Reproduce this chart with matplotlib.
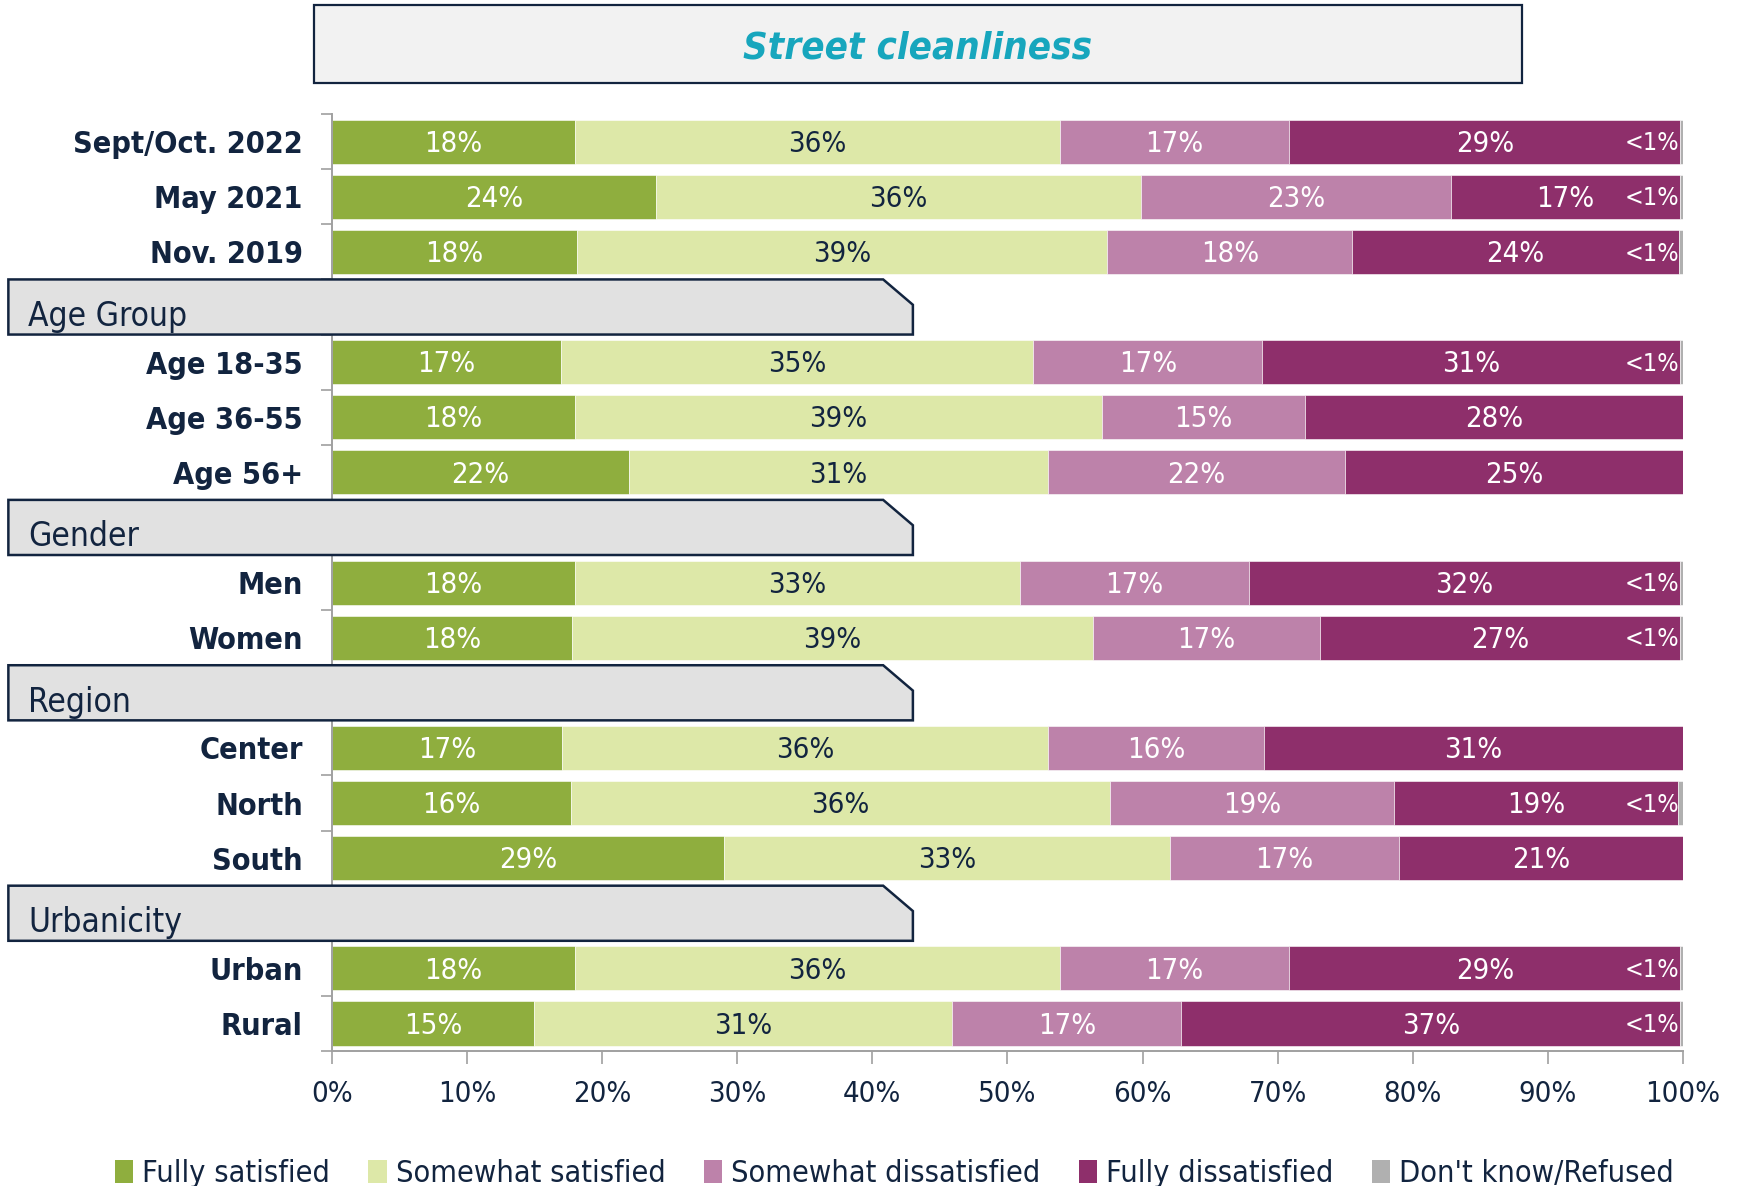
import matplotlib
matplotlib.use("Agg")
import matplotlib.pyplot as plt
from matplotlib.patches import Polygon, Rectangle, Patch
import numpy as np

plt.rcParams['font.family'] = ['DejaVu Sans']
plt.rcParams['font.stretch'] = 'condensed'

# Survey results (percent), one entry per row
categories = ["Sept/Oct. 2022", "May 2021", "Nov. 2019",
              "Age 18-35", "Age 36-55", "Age 56+",
              "Men", "Women",
              "Center", "North", "South",
              "Urban", "Rural"]
fully_sat = [18, 24, 18, 17, 18, 22, 18, 18, 17, 16, 29, 18, 15]
somewhat_sat = [36, 36, 39, 35, 39, 31, 33, 39, 36, 36, 33, 36, 31]
somewhat_dis = [17, 23, 18, 17, 15, 22, 17, 17, 16, 19, 17, 17, 17]
fully_dis = [29, 17, 24, 31, 28, 25, 32, 27, 31, 19, 21, 29, 37]
dont_know = [0.2, 0.2, 0.3, 0.2, 0, 0, 0.2, 0.2, 0, 0.3, 0, 0.2, 0.2]

# group headings and how many rows follow each one
groups = [("", 3), ("Age Group", 3), ("Gender", 2), ("Region", 3), ("Urbanicity", 2)]

series_names = ["Fully satisfied", "Somewhat satisfied", "Somewhat dissatisfied",
                "Fully dissatisfied", "Don't know/Refused"]
colors = ["#8fae3e", "#dde8a8", "#bd82aa", "#8e2f6b", "#b0b0b0"]
text_colors = ["white", "#12243f", "white", "white", "white"]
navy = "#12243f"

# slot layout: headings take a slot of their own
row_pos = []
head_pos = []
slot = 0
for name, n in groups:
    if name:
        head_pos.append((name, slot))
        slot += 1
    for _ in range(n):
        row_pos.append(slot)
        slot += 1
n_slots = slot

data = np.array([fully_sat, somewhat_sat, somewhat_dis, fully_dis, dont_know], dtype=float)
shares = data / data.sum(axis=0) * 100  # 100% stacked

fig = plt.figure(figsize=(17.37, 11.86), dpi=100)
ax = fig.add_axes([0.1911, 0.1138, 0.7778, 0.790])

left = np.zeros(len(categories))
for i in range(5):
    ax.barh(row_pos, shares[i], left=left, height=0.8, color=colors[i],
            edgecolor="white", linewidth=0.4, zorder=2)
    for j, y in enumerate(row_pos):
        v = data[i, j]
        if v <= 0:
            continue
        if i == 4:
            ax.text(99.7, y + 0.03, "<1%", ha="right", va="center", color="white",
                    fontsize=18, zorder=4)
        else:
            ax.text(left[j] + shares[i, j] / 2, y + 0.04, f"{int(v)}%", ha="center",
                    va="center", color=text_colors[i], fontsize=21, zorder=4)
    left += shares[i]

ax.set_xlim(0, 100)
ax.set_ylim(n_slots - 0.5, -0.5)
ax.set_xticks(np.arange(0, 101, 10))
ax.set_xticklabels([f"{t}%" for t in range(0, 101, 10)], fontsize=21, color=navy)
ax.tick_params(axis="x", length=9, color="#a0a0a0", width=1.2, pad=12)

ax.set_yticks(row_pos)
ax.set_yticklabels(categories, fontsize=22, fontweight="bold", color=navy)
ax.tick_params(axis="y", which="major", length=0, pad=21)
ax.set_yticks(np.arange(-0.5, n_slots, 1.0), minor=True)
ax.tick_params(axis="y", which="minor", length=8, color="#a0a0a0", width=1.2)

for s in ["top", "right"]:
    ax.spines[s].set_visible(False)
for s in ["left", "bottom"]:
    ax.spines[s].set_color("#a0a0a0")
    ax.spines[s].set_linewidth(1.4)

# heading tabs with a clipped top-right corner
for name, y in head_pos:
    x0, x1, xc = -23.95, 43.0, 40.8
    top, bot = y - 0.5, y + 0.5
    poly = Polygon([(x0, top), (xc, top), (x1, y - 0.04), (x1, bot), (x0, bot)],
                   closed=True, facecolor="#e1e1e1", edgecolor=navy, linewidth=1.8,
                   clip_on=False, zorder=5)
    ax.add_patch(poly)
    ax.text(-22.5, y + 0.17, name, ha="left", va="center", fontsize=24,
            color=navy, zorder=6, clip_on=False)

# title box
fig.patches.append(Rectangle((0.1805, 0.930), 0.6958, 0.0655, transform=fig.transFigure,
                             facecolor="#f2f2f2", edgecolor=navy, linewidth=1.6))
fig.text(0.528, 0.9588, "Street cleanliness", ha="center", va="center", fontsize=27.5,
         fontweight="bold", fontstyle="italic", color="#17a6bd")

handles = [Patch(facecolor=c, edgecolor="none") for c in colors]
fig.legend(handles, series_names, loc="center", bbox_to_anchor=(0.515, 0.0105), ncol=5,
           frameon=False, fontsize=22, handlelength=0.6, handleheight=0.8,
           handletextpad=0.3, columnspacing=1.25, labelcolor=navy)

fig.savefig("out.png", dpi=100)
